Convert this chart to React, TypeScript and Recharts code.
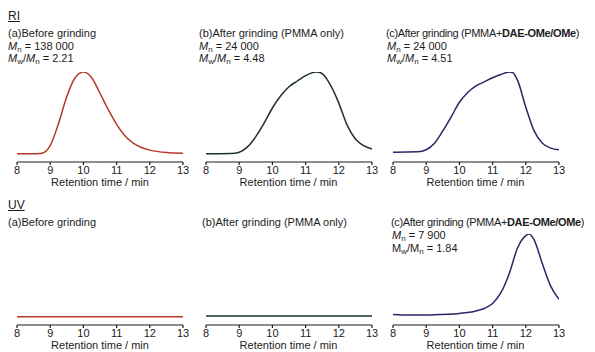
import React from 'react'
import { LineChart, Line, XAxis, YAxis } from 'recharts'

// retention time (min) and normalized detector signal
const riBeforeTime = [8, 8.5, 8.75, 9, 9.25, 9.5, 9.75, 10, 10.25, 10.5, 10.75, 11, 11.25, 11.5, 11.75, 12, 12.5, 13]
const riBeforeSignal = [0, 0, 0.008, 0.1, 0.37, 0.7, 0.93, 1.0, 0.93, 0.74, 0.54, 0.36, 0.22, 0.13, 0.077, 0.045, 0.016, 0.008]

const riPmmaTime = [8, 8.75, 9, 9.25, 9.5, 9.75, 10, 10.25, 10.5, 10.75, 11, 11.25, 11.35, 11.5, 11.75, 12, 12.25, 12.5, 12.75, 13]
const riPmmaSignal = [0, 0.004, 0.02, 0.085, 0.21, 0.375, 0.56, 0.71, 0.82, 0.89, 0.955, 0.996, 1.0, 0.98, 0.84, 0.62, 0.35, 0.18, 0.1, 0.06]

const riDaeTime = [8, 8.75, 9, 9.25, 9.5, 9.75, 10, 10.25, 10.5, 10.75, 11, 11.25, 11.5, 11.6, 11.75, 12, 12.25, 12.5, 12.75, 13]
const riDaeSignal = [0.02, 0.024, 0.05, 0.13, 0.28, 0.45, 0.63, 0.75, 0.83, 0.88, 0.93, 0.97, 1.0, 0.995, 0.9, 0.57, 0.28, 0.13, 0.07, 0.05]

const uvBeforeTime = [8, 13]
const uvBeforeSignal = [0, 0]

const uvPmmaTime = [8, 13]
const uvPmmaSignal = [0.01, 0.01]

const uvDaeTime = [8, 8.5, 9, 9.5, 10, 10.5, 10.75, 11, 11.25, 11.5, 11.75, 12, 12.1, 12.25, 12.5, 12.75, 13]
const uvDaeSignal = [0.028, 0.02, 0.02, 0.028, 0.04, 0.07, 0.1, 0.16, 0.29, 0.52, 0.83, 0.98, 1.0, 0.93, 0.64, 0.37, 0.21]

const timeTicks = [8, 9, 10, 11, 12, 13]

const FONT = '"Liberation Sans", Arial, Helvetica, sans-serif'
const INK = '#1c1c1c'

const zip = (t: number[], v: number[]) => t.map((x, i) => ({ t: x, v: v[i] }))

const PAD = 10
const MT = 4

function Panel({ left, top, height, time, signal, color }: any) {
  const width = 166
  return (
    <div style={{ position: 'absolute', left: left - PAD, top: top - MT }}>
      <LineChart
        width={width + PAD * 2}
        height={height + MT + 20}
        data={zip(time, signal)}
        margin={{ top: MT, right: PAD, left: PAD, bottom: 0 }}
      >
        <XAxis
          type="number"
          dataKey="t"
          domain={[8, 13]}
          ticks={timeTicks}
          allowDataOverflow
          height={20}
          tickSize={3}
          tickMargin={1}
          stroke={INK}
          strokeWidth={1.2}
          tick={{ fontSize: 11, fill: INK, fontFamily: FONT }}
        />
        <YAxis hide type="number" domain={[-0.1, 1]} allowDataOverflow />
        <Line
          type="monotone"
          dataKey="v"
          stroke={color}
          strokeWidth={1.5}
          dot={false}
          isAnimationActive={false}
        />
      </LineChart>
      <div
        style={{
          position: 'absolute',
          left: PAD,
          width,
          top: height + MT + 13,
          textAlign: 'center',
          fontSize: 11,
          lineHeight: '14px',
          color: INK,
          fontFamily: FONT,
        }}
      >
        Retention time / min
      </div>
    </div>
  )
}

const Txt = ({ x, y, size = 11, children, style }: any) => (
  <div
    style={{
      position: 'absolute',
      left: x,
      top: y - 7,
      fontSize: size,
      lineHeight: '14px',
      whiteSpace: 'nowrap',
      color: INK,
      fontFamily: FONT,
      ...style,
    }}
  >
    {children}
  </div>
)

const Sub = ({ children }: any) => (
  <span style={{ fontSize: 8, position: 'relative', top: 2, fontStyle: 'normal' }}>{children}</span>
)

const Mn = () => (
  <>
    <i>M</i>
    <Sub>n</Sub>
  </>
)

const MwMn = ({ italic = true }: any) =>
  italic ? (
    <>
      <i>M</i>
      <Sub>w</Sub>/<i>M</i>
      <Sub>n</Sub>
    </>
  ) : (
    <>
      M<Sub>w</Sub>/M<Sub>n</Sub>
    </>
  )

const tight = { letterSpacing: '-0.35px' }

export default function App() {
  return (
    <div
      style={{
        position: 'absolute',
        left: 0,
        top: 0,
        width: 595,
        height: 352,
        background: '#fff',
        overflow: 'hidden',
        fontFamily: FONT,
      }}
    >
      {/* RI row */}
      <Txt x={8} y={16} size={12} style={{ textDecoration: 'underline' }}>RI</Txt>
      <Txt x={8} y={33}>(a)Before grinding</Txt>
      <Txt x={8} y={45.5}><Mn /> = 138 000</Txt>
      <Txt x={8} y={58}><MwMn /> = 2.21</Txt>

      <Txt x={199} y={33}>(b)After grinding (PMMA only)</Txt>
      <Txt x={199} y={45.5}><Mn /> = 24 000</Txt>
      <Txt x={199} y={58}><MwMn /> = 4.48</Txt>

      <Txt x={386} y={33} style={tight}>(c)After grinding (PMMA+<b>DAE-OMe/OMe</b>)</Txt>
      <Txt x={387} y={45.5}><Mn /> = 24 000</Txt>
      <Txt x={387} y={58}><MwMn /> = 4.51</Txt>

      <Panel left={17} top={72} height={90} time={riBeforeTime} signal={riBeforeSignal} color="#b5382a" />
      <Panel left={205.5} top={72} height={90} time={riPmmaTime} signal={riPmmaSignal} color="#1f3320" />
      <Panel left={392.5} top={72} height={90} time={riDaeTime} signal={riDaeSignal} color="#27286a" />

      {/* UV row */}
      <Txt x={8} y={205} size={12} style={{ textDecoration: 'underline' }}>UV</Txt>
      <Txt x={8} y={222}>(a)Before grinding</Txt>
      <Txt x={202} y={222}>(b)After grinding (PMMA only)</Txt>
      <Txt x={391} y={222} style={tight}>(c)After grinding (PMMA+<b>DAE-OMe/OMe</b>)</Txt>
      <Txt x={392} y={235}><Mn /> = 7 900</Txt>
      <Txt x={392} y={248}><MwMn italic={false} /> = 1.84</Txt>

      <Panel left={17} top={234} height={91} time={uvBeforeTime} signal={uvBeforeSignal} color="#b5382a" />
      <Panel left={205.5} top={234} height={91} time={uvPmmaTime} signal={uvPmmaSignal} color="#1f3320" />
      <Panel left={392.5} top={234} height={91} time={uvDaeTime} signal={uvDaeSignal} color="#27286a" />
    </div>
  )
}
